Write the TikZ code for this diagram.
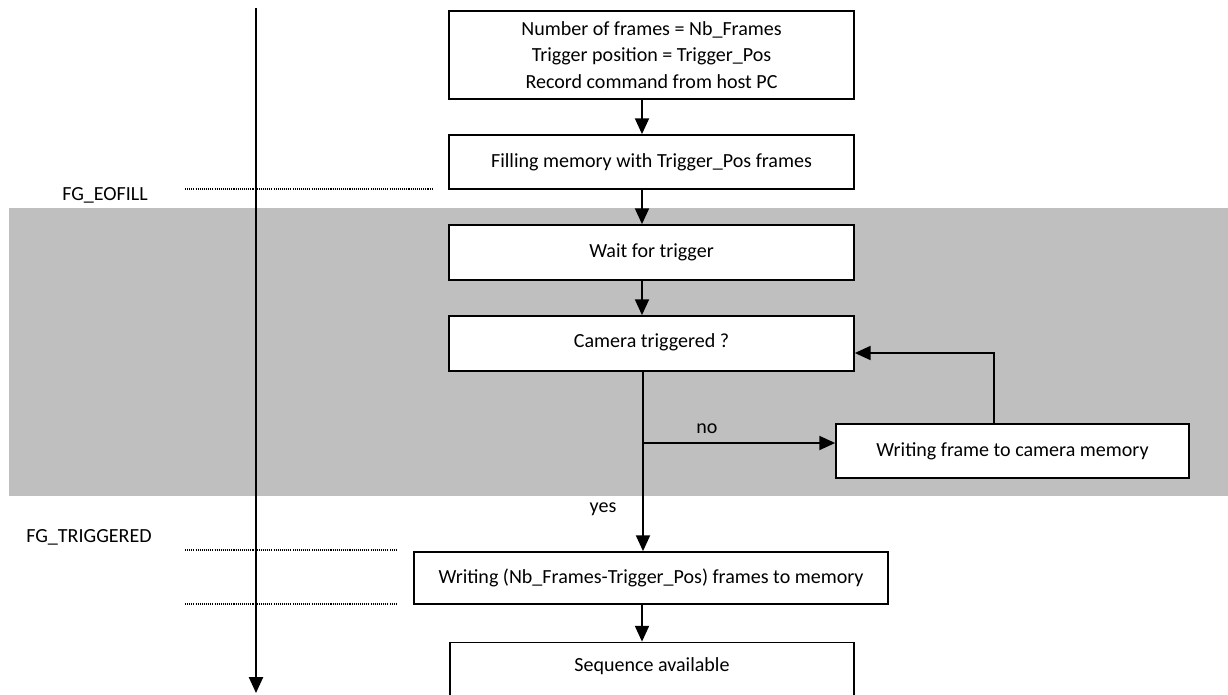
\documentclass[tikz,border=0pt]{standalone}
\usepackage{fontspec}
\setmainfont{Carlito}
\usetikzlibrary{arrows.meta}
\definecolor{bandgray}{RGB}{191,191,191}
\begin{document}
\begin{tikzpicture}[x=0.02cm,y=-0.02cm,
    font=\fontsize{11.4}{15.2}\selectfont,
    box/.style={draw,line width=1pt,fill=white,align=center,inner sep=2pt,minimum width=8.1cm,minimum height=1.1cm},
    flow/.style={-{Triangle[width=8pt,length=9pt]},line width=1pt},
    eventline/.style={line width=0.6pt,dash pattern=on 0.6pt off 0.6pt}]
  \useasboundingbox (0,0) rectangle (1228,694);
  \fill[bandgray] (9,208) rectangle (1228,496);
  \draw
    (651.5,55) node[box,minimum height=1.76cm] (setup){Number of frames = Nb\_Frames\\Trigger position = Trigger\_Pos\\Record command from host PC}
    (651.5,162) node[box,minimum height=1.08cm] (fill){Filling memory with Trigger\_Pos frames}
    (651.5,252.5) node[box] (wait){Wait for trigger}
    (651.5,343.5) node[box,text depth=0.12cm] (check){Camera triggered ?}
    (1012.5,451) node[box,minimum width=7.06cm,minimum height=1.08cm] (store){Writing frame to camera memory}
    (651,578) node[box,minimum width=9.48cm,minimum height=1.04cm] (post){Writing (Nb\_Frames-Trigger\_Pos) frames to memory}
    (652,675) node[box,minimum width=8.08cm,minimum height=1.3cm,text depth=0.42cm] (done){Sequence available};
  \draw
    (105,195) node (eofill){FG\_EOFILL}
    (89,537) node (trig){FG\_TRIGGERED}
    (707,429) node (no){no}
    (603,509) node (yes){yes};
  \coordinate (spine) at (642,0);
  \coordinate (split) at (643,443);
  \coordinate (back) at (994,353);
  \coordinate (t0) at (256,8);
  \coordinate (t1) at (256,693);
  \begin{scope}[eventline]
    \draw (185,189) -- (432,189);
    \draw (185,550) -- (397,550);
    \draw (185,604) -- (397,604);
  \end{scope}
  \begin{scope}[flow]
    \draw (t0) -- (t1);
    \draw (setup.south -| spine) -- (fill.north -| spine);
    \draw (fill.south -| spine) -- (wait.north -| spine);
    \draw (wait.south -| spine) -- (check.north -| spine);
    \draw (check.south -| split) -- (post.north -| split);
    \draw (split) -- (split -| store.west);
    \draw (back |- store.north) -- (back) -- (back -| check.east);
    \draw (post.south -| spine) -- (done.north -| spine);
  \end{scope}
\end{tikzpicture}
\end{document}
